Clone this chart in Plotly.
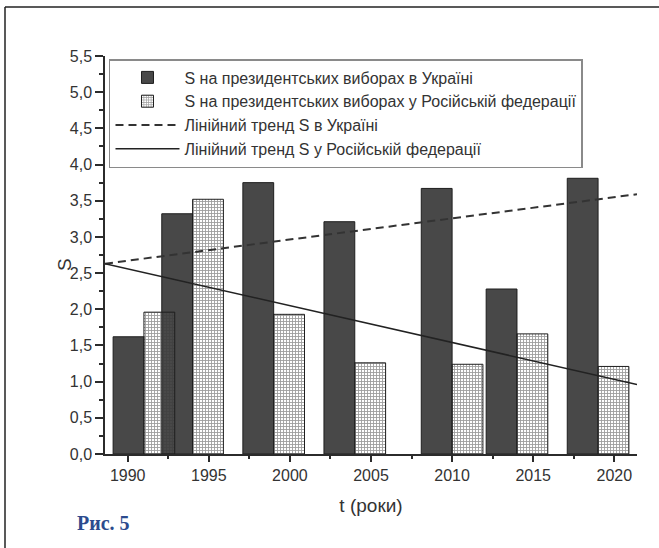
import plotly.graph_objects as go

# ---- data ----
election_years = [1991, 1994, 1999, 2004, 2010, 2014, 2019]
s_ukraine = [1.62, 3.32, 3.75, 3.21, 3.67, 2.28, 3.81]
s_russia = [1.96, 3.52, 1.93, 1.26, 1.24, 1.66, 1.21]

trend_x = [1988.6, 2021.4]
trend_ukraine = [2.63, 3.59]
trend_russia = [2.63, 0.96]

y_tickvals = [0, 0.5, 1.0, 1.5, 2.0, 2.5, 3.0, 3.5, 4.0, 4.5, 5.0, 5.5]
y_ticktext = ["0,0", "0,5", "1,0", "1,5", "2,0", "2,5", "3,0", "3,5", "4,0", "4,5", "5,0", "5,5"]
x_tickvals = [1990, 1995, 2000, 2005, 2010, 2015, 2020]
x_ticktext = ["1990", "1995", "2000", "2005", "2010", "2015", "2020"]

names = [
    "S на президентських виборах в Україні",
    "S на президентських виборах у Російській федерації",
    "Лінійний тренд S в Україні",
    "Лінійний тренд S у Російській федерації",
]
y_title = "S"
x_title = "t (роки)"
caption = "Рис. 5"

FONT = "Liberation Sans, Arial, sans-serif"
AX = "#2b2b2b"
TXT = "#333333"

fig = go.Figure()
fig.add_trace(go.Bar(
    x=election_years, y=s_ukraine, name=names[0],
    width=1.9, offset=-1.9,
    marker=dict(color="#484848", line=dict(color="#1e1e1e", width=1)),
))
fig.add_trace(go.Bar(
    x=election_years, y=s_russia, name=names[1],
    width=1.9, offset=0,
    marker=dict(color="rgba(255,255,255,0)",
                line=dict(color="#1e1e1e", width=1),
                pattern=dict(shape="+", size=3, solidity=0.5,
                             fgcolor="#3a3a3a", bgcolor="rgba(255,255,255,0)",
                             fillmode="overlay")),
))
fig.add_trace(go.Scatter(
    x=trend_x, y=trend_ukraine, mode="lines", name=names[2],
    line=dict(color="#333333", width=2, dash="8px,5px"),
))
fig.add_trace(go.Scatter(
    x=trend_x, y=trend_russia, mode="lines", name=names[3],
    line=dict(color="#222222", width=1.6),
))

fig.update_layout(
    width=659, height=548,
    margin=dict(l=105, r=22, t=56, b=94),
    paper_bgcolor="white", plot_bgcolor="white",
    barmode="overlay",
    font=dict(family=FONT, color=TXT),
    showlegend=True,
    legend=dict(
        x=0.0075, y=(454 - 59) / 398, xanchor="left", yanchor="top",
        bgcolor="white", bordercolor="#8a8a8a", borderwidth=1.5,
        font=dict(size=16, color=TXT, family=FONT),
        itemwidth=64, traceorder="normal",
    ),
    xaxis=dict(
        range=[1988.6, 2021.4],
        tickmode="array", tickvals=x_tickvals, ticktext=x_ticktext,
        ticks="outside", ticklen=6, tickwidth=1.5, tickcolor=AX,
        showline=True, linecolor=AX, linewidth=1.5,
        showgrid=False, zeroline=False,
        tickfont=dict(size=16, color=TXT),
        minor=dict(ticks="outside", ticklen=3.5, tickwidth=1.5, tickcolor=AX,
                   tick0=1990, dtick=2.5, showgrid=False),
        title=dict(text=x_title, font=dict(size=19, color=TXT), standoff=16),
    ),
    yaxis=dict(
        range=[0, 5.5],
        tickmode="array", tickvals=y_tickvals, ticktext=y_ticktext,
        ticks="outside", ticklen=8, tickwidth=1.5, tickcolor=AX,
        showline=True, linecolor=AX, linewidth=1.5,
        showgrid=False, zeroline=False,
        tickfont=dict(size=16, color=TXT),
        minor=dict(ticks="outside", ticklen=4, tickwidth=1.5, tickcolor=AX,
                   tick0=0, dtick=0.25, showgrid=False),
    ),
)

# y-axis title placed as rotated text
fig.add_annotation(
    text=y_title, xref="paper", yref="paper",
    x=(64 - 105) / 532, y=(454 - 265) / 398, xanchor="center", yanchor="middle",
    textangle=-90, showarrow=False, font=dict(size=19, color=TXT, family=FONT),
)

# outer frame of the figure (left and top edges)
fig.add_shape(type="line", xref="paper", yref="paper",
              x0=(5 - 105) / 532, x1=(5 - 105) / 532,
              y0=(454 - 7) / 398, y1=(454 - 560) / 398,
              line=dict(color="#222222", width=1.5))
fig.add_shape(type="line", xref="paper", yref="paper",
              x0=(5 - 105) / 532, x1=(670 - 105) / 532,
              y0=(454 - 7) / 398, y1=(454 - 7) / 398,
              line=dict(color="#222222", width=1.5))

fig.add_annotation(
    text="<b>" + caption + "</b>", xref="paper", yref="paper",
    x=(75 - 105) / 532, y=(454 - 523) / 398, xanchor="left", yanchor="middle",
    showarrow=False,
    font=dict(family="Liberation Serif, Times New Roman, serif", size=20, color="#2c4b8e"),
)

fig.write_html("out.html", config={"displayModeBar": False},
               post_script="document.body.style.margin='0';")
